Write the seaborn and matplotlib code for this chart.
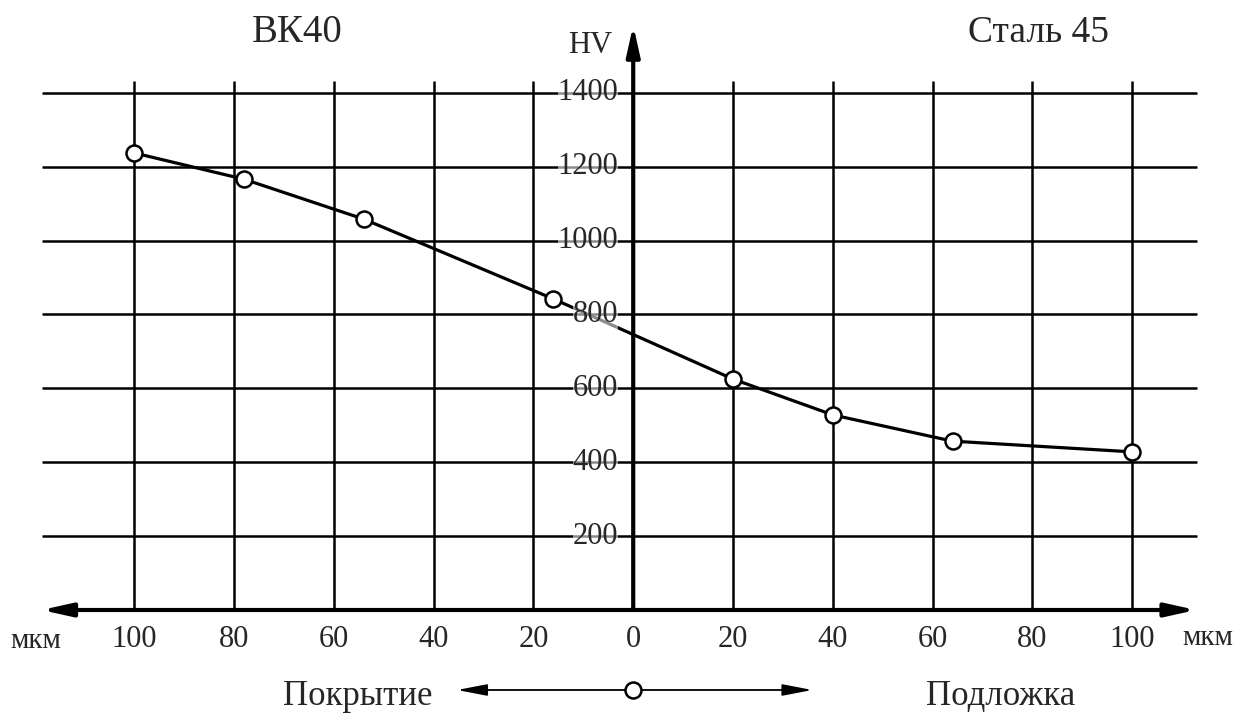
import numpy as np
import pandas as pd
import matplotlib
matplotlib.use("Agg")
import matplotlib.pyplot as plt
import seaborn as sns

sns.set_style("white")
plt.rcParams['font.family'] = ['Liberation Serif', 'DejaVu Serif']

# глубина, мкм (покрытие ВК40 — влево, подложка Сталь 45 — вправо)
coat_depth = [100, 78, 54, 16]
coat_hv = [1237, 1166, 1058, 842]
sub_depth = [20, 40, 64, 100]
sub_hv = [625, 528, 457, 428]

x_ticks = [-100, -80, -60, -40, -20, 0, 20, 40, 60, 80, 100]
x_labels = ['100', '80', '60', '40', '20', '0', '20', '40', '60', '80', '100']
y_ticks = [200, 400, 600, 800, 1000, 1200, 1400]

df = pd.DataFrame({
    'x': [-d for d in coat_depth] + sub_depth,
    'hv': coat_hv + sub_hv,
})

fig = plt.figure(figsize=(12.42, 7.18), dpi=100)
ax = fig.add_axes([0, 0, 1, 1])
ax.set_xlim(-126.9, 122.0)
ax.set_ylim(-292.3, 1651)
ax.set_axis_off()

# сетка
ax.hlines(y_ticks, -118.4, 113, color='black', lw=1.8, zorder=1)
ax.vlines([t for t in x_ticks if t != 0], 0, 1432, color='black', lw=1.8, zorder=1)

# оси со стрелками
ax.annotate('', xy=(-118.6, 0), xytext=(112.8, 0),
            arrowprops=dict(arrowstyle='<|-|>,head_length=0.9,head_width=0.2',
                            mutation_scale=20, lw=3, color='black',
                            shrinkA=0, shrinkB=0), zorder=3)
ax.annotate('', xy=(0, 1583), xytext=(0, 0),
            arrowprops=dict(arrowstyle='-|>,head_length=0.9,head_width=0.2',
                            mutation_scale=20, lw=3, color='black',
                            shrinkA=0, shrinkB=0), zorder=3)

# кривая твёрдости
sns.lineplot(data=df, x='x', y='hv', ax=ax, color='black', lw=2.3,
             marker='o', markersize=11.5, markerfacecolor='white',
             markeredgecolor='black', markeredgewidth=1.8, zorder=4)

# подписи делений
for t, lab in zip(x_ticks, x_labels):
    ax.text(t, -100, lab, ha='center', va='baseline', fontsize=22)
for t in y_ticks:
    ax.text(-3, t, str(t), ha='right', va='center', fontsize=22, zorder=5,
            bbox=dict(facecolor='white', edgecolor='none', alpha=0.55, pad=0))

ax.text(-119.8, -103, 'мкм', ha='center', va='baseline', fontsize=21)
ax.text(115.2, -95, 'мкм', ha='center', va='baseline', fontsize=21)
ax.text(-8.6, 1508, 'HV', ha='center', va='baseline', fontsize=22)
ax.text(-67.3, 1537, 'ВК40', ha='center', va='baseline', fontsize=28)
ax.text(81.2, 1537, 'Сталь 45', ha='center', va='baseline', fontsize=27)

# нижняя легенда
for tip in (-35.3, 35.9):
    ax.annotate('', xy=(tip, -216.5), xytext=(0, -216.5),
                arrowprops=dict(arrowstyle='-|>,head_length=1.3,head_width=0.25',
                                mutation_scale=14, lw=1.3, color='black',
                                shrinkA=0, shrinkB=0))
ax.plot([0], [-216.5], 'o', ms=11.5, mfc='white', mec='black', mew=1.8, zorder=5)
ax.text(-55.3, -257, 'Покрытие', ha='center', va='baseline', fontsize=25)
ax.text(73.7, -257, 'Подложка', ha='center', va='baseline', fontsize=25)

if ax.get_legend() is not None:
    ax.get_legend().remove()

plt.savefig('out.png', dpi=100)
plt.close()
